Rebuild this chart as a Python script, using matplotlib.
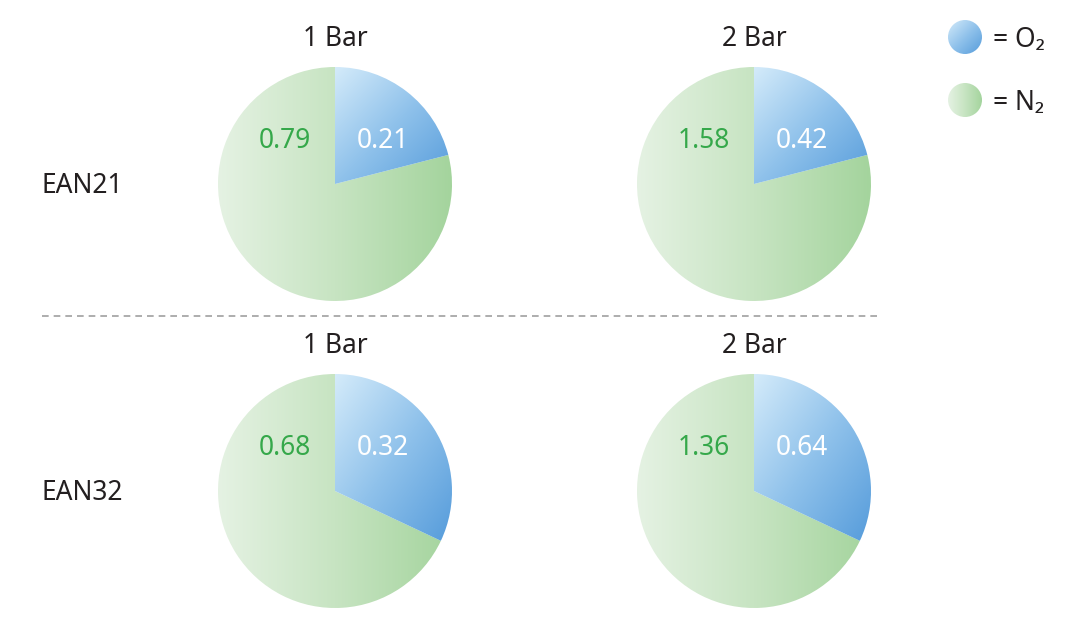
import numpy as np
import matplotlib.pyplot as plt
from matplotlib.colors import LinearSegmentedColormap
from matplotlib.patches import Circle

plt.rcParams['font.family'] = ['Noto Sans', 'DejaVu Sans']

# data: partial pressures (bar) of each gas
mixes = ['EAN21', 'EAN32']
pressures = ['1 Bar', '2 Bar']
o2_values = [[0.21, 0.42], [0.32, 0.64]]
n2_values = [[0.79, 1.58], [0.68, 1.36]]
legend_labels = ['= O\u2082', '= N\u2082']

blue_cmap = LinearSegmentedColormap.from_list('o2', ['#d4ebfa', '#90c2eb', '#569cdb'])
green_cmap = LinearSegmentedColormap.from_list('n2', ['#e5f2e3', '#c7e4c2', '#a4d49d'])

W, H = 1090, 630
fig = plt.figure(figsize=(W / 100, H / 100), dpi=100)
ax = fig.add_axes([0, 0, 1, 1])

col_x = [335, 754]
row_y = [184, 491]   # pixel rows from the top
R = 117
FS = 19
dark = '#231f20'


def grad_fill(patch, extent, cmap, diagonal):
    n = 256
    gx, gy = np.meshgrid(np.linspace(0, 1, n), np.linspace(0, 1, n))
    if diagonal:
        g = (gx + gy) / 2
    else:
        g = gx
    im = ax.imshow(g, extent=extent, origin='upper', cmap=cmap, vmin=0, vmax=1,
                   interpolation='bilinear', zorder=1)
    im.set_clip_path(patch)


for i, mix in enumerate(mixes):
    cy = H - row_y[i]
    ax.text(41, cy - 9, mix, fontsize=FS, ha='left', va='baseline', color=dark)
    for j, pr in enumerate(pressures):
        cx = col_x[j]
        o2 = o2_values[i][j]
        n2 = n2_values[i][j]
        wedges, _ = ax.pie([o2, n2], startangle=90, counterclock=False,
                           center=(cx, cy), radius=R, frame=True)
        # blue wedge bounding box for its gradient
        frac = o2 / (o2 + n2)
        th = np.radians(np.linspace(90, 90 - 360 * frac, 200))
        xs = np.concatenate([[cx], cx + R * np.cos(th)])
        ys = np.concatenate([[cy], cy + R * np.sin(th)])
        for w in wedges:
            w.set_facecolor('none')
            w.set_edgecolor('none')
        grad_fill(wedges[1], [cx - R, cx + R, cy - R, cy + R], green_cmap, False)
        grad_fill(wedges[0], [xs.min(), xs.max(), ys.min(), ys.max()], blue_cmap, True)
        ax.text(cx, cy + 138, pr, fontsize=FS, ha='center', va='baseline', color=dark)
        ax.text(cx + 48, cy + 36, '{:.2f}'.format(o2), fontsize=FS, ha='center',
                va='baseline', color='white', zorder=3)
        ax.text(cx - 50, cy + 36, '{:.2f}'.format(n2), fontsize=FS, ha='center',
                va='baseline', color='#35a84a', zorder=3)

# separator
ax.plot([42, 880], [H - 316, H - 316], color='#a0a0a0', lw=1.2,
        linestyle=(0, (4, 3)))

# legend
leg_y = [37, 100]
for k, lab in enumerate(legend_labels):
    ly = H - leg_y[k]
    c = Circle((965, ly), 17, facecolor='none', edgecolor='none')
    ax.add_patch(c)
    if k == 0:
        grad_fill(c, [948, 982, ly - 17, ly + 17], blue_cmap, True)
    else:
        grad_fill(c, [948, 982, ly - 17, ly + 17], green_cmap, False)
    ax.text(993, ly - 10, lab, fontsize=FS, ha='left', va='baseline', color=dark)

ax.set_xlim(0, W)
ax.set_ylim(0, H)
ax.set_aspect('auto')
ax.set_axis_off()

fig.savefig('out.png', dpi=100)
